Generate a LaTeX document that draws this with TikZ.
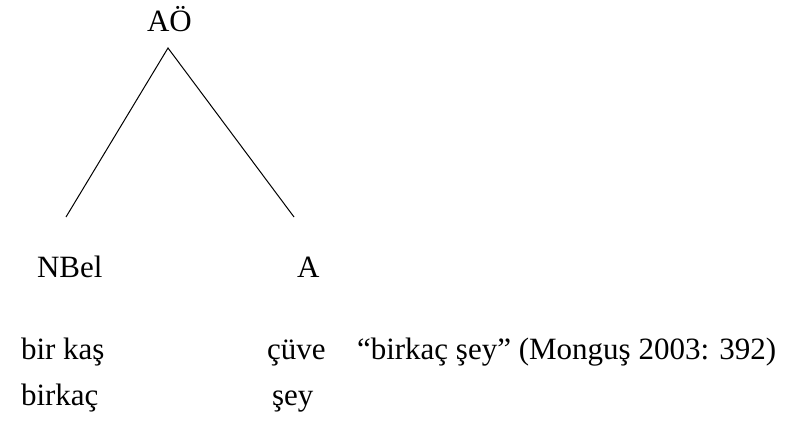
\documentclass[tikz,border=0pt]{standalone}
\usepackage{fontspec}
\setmainfont{Liberation Serif}
\begin{document}
\begin{tikzpicture}[x=1pt,y=-1pt,
  lbl/.style={anchor=base west,inner sep=0pt,outer sep=0pt,font=\fontsize{31}{37}\selectfont},
  branch/.style={draw=black,line width=1pt}]
\useasboundingbox (0,0) rectangle (787,425);
\node[lbl] (root) at (147,32) {AÖ};
\coordinate (apex) at (168,48);
\coordinate (lend) at (66,217);
\coordinate (rend) at (294,217);
\draw[branch] (lend) -- (apex) -- (rend);
\node[lbl] (nbel) at (37,277) {NBel};
\node[lbl] (a) at (297,277) {A};
\node[lbl] (w1) at (21,359) {bir kaş};
\node[lbl] (w2) at (267,359) {çüve};
\node[lbl] (gloss) at (357,359) {“birkaç şey” (Monguş 2003: 392)};
\node[lbl] (m1) at (21,405) {birkaç};
\node[lbl] (m2) at (272,405) {şey};
\end{tikzpicture}
\end{document}
